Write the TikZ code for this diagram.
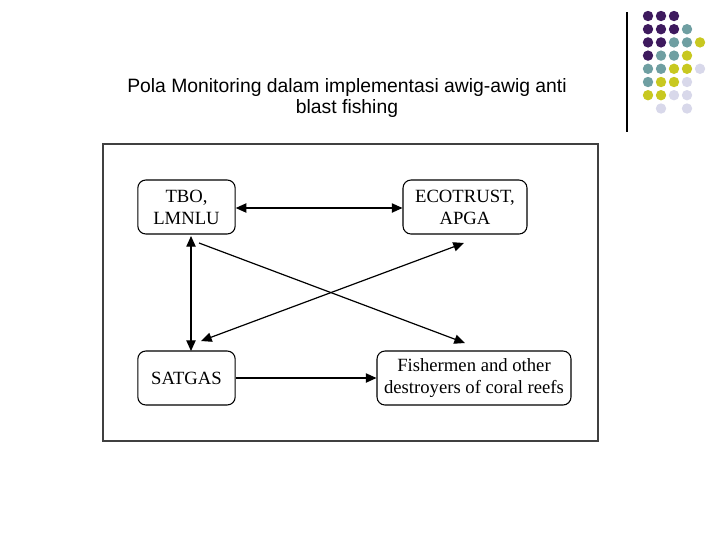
\documentclass[tikz,border=0pt]{standalone}
\usepackage{fontspec}
\setmainfont{Liberation Serif}
\newfontfamily\ttl{Liberation Sans}
\usetikzlibrary{arrows.meta}
\definecolor{cP}{HTML}{3E1A5E}\definecolor{cT}{HTML}{6F9FA2}
\definecolor{cY}{HTML}{C8C820}\definecolor{cL}{HTML}{D8D8EA}
\begin{document}
\begin{tikzpicture}[x=0.75pt,y=-0.75pt,
 box/.style={draw,rounded corners=6pt,line width=0.8pt,inner sep=0pt,font=\fontsize{14}{16.5}\selectfont,align=center},
 arr/.style={line width=0.9pt,-{Triangle[length=8pt,width=7pt]}},
 darr/.style={line width=0.9pt,{Triangle[length=8pt,width=7pt]}-{Triangle[length=8pt,width=7pt]}}]
\useasboundingbox (0,0) rectangle (720,540);
\draw[line width=0.8pt] (627,12) -- (627,132);
\foreach \r/\row in {0/{P,P,P},1/{P,P,P,T},2/{P,P,T,T,Y},3/{P,T,T,Y},4/{T,T,Y,Y,L},5/{T,Y,Y,L},6/{Y,Y,L,L}}{
 \foreach \c [count=\i from 0] in \row { \fill[c\c] (648+13*\i,16+13.2*\r) circle (5.2); } }
\fill[cL] (661,108.5) circle (5.2); \fill[cL] (687,108.5) circle (5.2);
\node[font=\ttl\fontsize{14.5}{16}\selectfont,align=center] (title) at (347,98) {Pola Monitoring dalam implementasi awig-awig anti\\blast fishing};
\draw[line width=0.8pt,draw=black!75] (103,144) rectangle (598,441);
\node[box,minimum width=73pt,minimum height=40.5pt] (tbo) at (186.5,207) {TBO,\\LMNLU};
\node[box,minimum width=93pt,minimum height=40.5pt] (eco) at (465,207) {ECOTRUST,\\APGA};
\node[box,minimum width=73pt,minimum height=40.5pt] (sat) at (186.5,378) {SATGAS};
\node[box,minimum width=145.5pt,minimum height=40.5pt] (fis) at (474,378) {Fishermen and other\\destroyers of coral reefs};
\draw[darr] (tbo.east |- 0,208) -- (eco.west |- 0,208);
\draw[darr] (191,236) -- (191,351);
\coordinate (a1) at (199,243); \coordinate (a2) at (465,343);
\draw[arr] (a1) -- (a2);
\coordinate (b1) at (464,243); \coordinate (b2) at (201,341);
\draw[darr] (b1) -- (b2);
\draw[arr] (sat) -- (fis);
\end{tikzpicture}
\end{document}
